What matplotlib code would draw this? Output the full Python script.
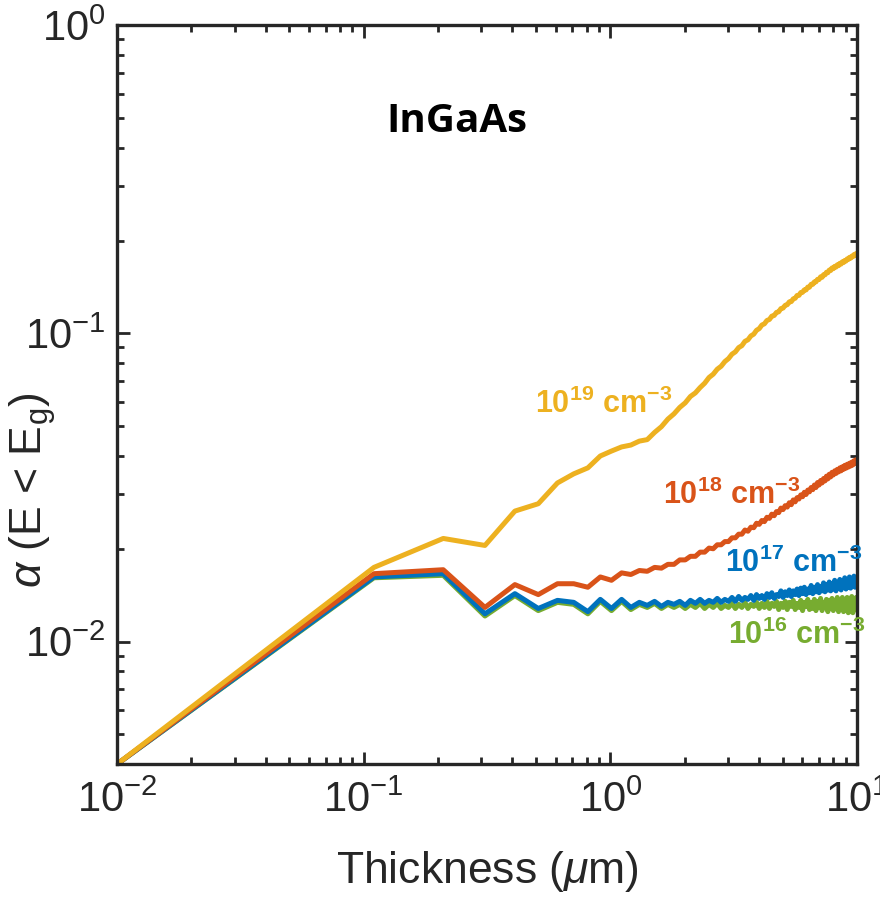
import matplotlib
matplotlib.use('AGG')
import matplotlib.pyplot as plt
from matplotlib.ticker import LogLocator, NullFormatter

plt.rcParams['font.family'] = ['Liberation Sans', 'DejaVu Sans']
plt.rcParams['mathtext.fontset'] = 'custom'
plt.rcParams['mathtext.rm'] = 'Liberation Sans'
plt.rcParams['mathtext.it'] = 'Liberation Sans:italic'
plt.rcParams['mathtext.bf'] = 'Liberation Sans:bold'

# thickness grid (um)
thickness = [0.01, 0.11, 0.21, 0.31, 0.41, 0.51, 0.61, 0.71, 0.81, 0.91,
             1.01, 1.11, 1.21, 1.31, 1.41, 1.51, 1.61, 1.71, 1.81, 1.91,
             2.01, 2.11, 2.21, 2.31, 2.41, 2.51, 2.61, 2.71, 2.81, 2.91,
             3.01, 3.11, 3.21, 3.31, 3.41, 3.51, 3.61, 3.71, 3.81, 3.91,
             4.01, 4.11, 4.21, 4.31, 4.41, 4.51, 4.61, 4.71, 4.81, 4.91,
             5.01, 5.11, 5.21, 5.31, 5.41, 5.51, 5.61, 5.71, 5.81, 5.91,
             6.01, 6.11, 6.21, 6.31, 6.41, 6.51, 6.61, 6.71, 6.81, 6.91,
             7.01, 7.11, 7.21, 7.31, 7.41, 7.51, 7.61, 7.71, 7.81, 7.91,
             8.01, 8.11, 8.21, 8.31, 8.41, 8.51, 8.61, 8.71, 8.81, 8.91,
             9.01, 9.11, 9.21, 9.31, 9.41, 9.51, 9.61, 9.71, 9.81, 9.91,
             10.01]

alpha_1e16 = [0.0040, 0.0161, 0.0164, 0.0121, 0.0141, 0.0126, 0.0134, 0.0132, 0.0123, 0.0135,
              0.0126, 0.0135, 0.0127, 0.0132, 0.0129, 0.0133, 0.0128, 0.0132, 0.0129, 0.0132,
              0.0128, 0.0132, 0.0129, 0.0133, 0.0128, 0.0132, 0.0129, 0.0133, 0.0128, 0.0131,
              0.0129, 0.0133, 0.0128, 0.0132, 0.0129, 0.0134, 0.0128, 0.0132, 0.0130, 0.0134,
              0.0128, 0.0133, 0.0129, 0.0135, 0.0128, 0.0133, 0.0130, 0.0135, 0.0127, 0.0133,
              0.0129, 0.0135, 0.0127, 0.0134, 0.0130, 0.0136, 0.0127, 0.0133, 0.0129, 0.0136,
              0.0126, 0.0134, 0.0130, 0.0137, 0.0127, 0.0134, 0.0128, 0.0137, 0.0126, 0.0135,
              0.0129, 0.0138, 0.0126, 0.0134, 0.0129, 0.0137, 0.0125, 0.0136, 0.0128, 0.0138,
              0.0126, 0.0135, 0.0129, 0.0139, 0.0125, 0.0136, 0.0128, 0.0139, 0.0125, 0.0137,
              0.0127, 0.0139, 0.0124, 0.0136, 0.0128, 0.0140, 0.0124, 0.0137, 0.0127, 0.0139,
              0.0131]

alpha_1e17 = [0.0040, 0.0162, 0.0166, 0.0123, 0.0143, 0.0128, 0.0136, 0.0134, 0.0125, 0.0137,
              0.0128, 0.0137, 0.0129, 0.0134, 0.0131, 0.0135, 0.0130, 0.0134, 0.0132, 0.0135,
              0.0131, 0.0136, 0.0133, 0.0137, 0.0133, 0.0136, 0.0134, 0.0138, 0.0134, 0.0137,
              0.0135, 0.0139, 0.0135, 0.0140, 0.0136, 0.0139, 0.0137, 0.0141, 0.0136, 0.0142,
              0.0138, 0.0141, 0.0137, 0.0143, 0.0139, 0.0144, 0.0138, 0.0142, 0.0140, 0.0146,
              0.0139, 0.0145, 0.0141, 0.0147, 0.0140, 0.0146, 0.0142, 0.0148, 0.0141, 0.0149,
              0.0143, 0.0150, 0.0142, 0.0148, 0.0144, 0.0152, 0.0143, 0.0150, 0.0145, 0.0153,
              0.0144, 0.0151, 0.0146, 0.0155, 0.0145, 0.0153, 0.0147, 0.0156, 0.0146, 0.0154,
              0.0148, 0.0158, 0.0146, 0.0155, 0.0149, 0.0159, 0.0147, 0.0157, 0.0150, 0.0161,
              0.0148, 0.0158, 0.0150, 0.0162, 0.0149, 0.0160, 0.0151, 0.0163, 0.0150, 0.0161,
              0.0156]

alpha_1e18 = [0.0040, 0.0166, 0.0171, 0.0129, 0.0153, 0.0142, 0.0154, 0.0154, 0.0150, 0.0162,
              0.0158, 0.0167, 0.0165, 0.0170, 0.0169, 0.0174, 0.0173, 0.0178, 0.0178, 0.0184,
              0.0184, 0.0189, 0.0189, 0.0195, 0.0195, 0.0201, 0.0200, 0.0206, 0.0206, 0.0211,
              0.0211, 0.0217, 0.0217, 0.0223, 0.0223, 0.0230, 0.0228, 0.0235, 0.0234, 0.0242,
              0.0240, 0.0247, 0.0245, 0.0253, 0.0251, 0.0259, 0.0256, 0.0264, 0.0262, 0.0271,
              0.0268, 0.0276, 0.0273, 0.0282, 0.0278, 0.0288, 0.0284, 0.0293, 0.0290, 0.0299,
              0.0295, 0.0305, 0.0300, 0.0310, 0.0306, 0.0316, 0.0311, 0.0322, 0.0316, 0.0328,
              0.0322, 0.0333, 0.0327, 0.0338, 0.0332, 0.0344, 0.0337, 0.0349, 0.0342, 0.0354,
              0.0347, 0.0358, 0.0351, 0.0362, 0.0355, 0.0366, 0.0358, 0.0369, 0.0362, 0.0373,
              0.0365, 0.0376, 0.0368, 0.0379, 0.0371, 0.0382, 0.0374, 0.0386, 0.0378, 0.0389,
              0.0386]

alpha_1e19 = [0.0040, 0.0174, 0.0216, 0.0205, 0.0265, 0.0280, 0.0327, 0.0350, 0.0366, 0.0400,
              0.0415, 0.0428, 0.0434, 0.0447, 0.0452, 0.0477, 0.0498, 0.0527, 0.0548, 0.0575,
              0.0595, 0.0624, 0.0641, 0.0667, 0.0689, 0.0719, 0.0737, 0.0765, 0.0782, 0.0810,
              0.0828, 0.0856, 0.0871, 0.0899, 0.0912, 0.0942, 0.0953, 0.0981, 0.0994, 0.1023,
              0.1036, 0.1064, 0.1074, 0.1101, 0.1109, 0.1137, 0.1143, 0.1169, 0.1175, 0.1203,
              0.1208, 0.1233, 0.1239, 0.1265, 0.1268, 0.1294, 0.1300, 0.1327, 0.1328, 0.1356,
              0.1359, 0.1384, 0.1383, 0.1413, 0.1412, 0.1443, 0.1442, 0.1469, 0.1469, 0.1497,
              0.1495, 0.1525, 0.1520, 0.1550, 0.1548, 0.1578, 0.1573, 0.1604, 0.1599, 0.1630,
              0.1621, 0.1650, 0.1640, 0.1669, 0.1658, 0.1688, 0.1678, 0.1707, 0.1697, 0.1724,
              0.1716, 0.1744, 0.1737, 0.1764, 0.1753, 0.1780, 0.1772, 0.1801, 0.1790, 0.1816,
              0.1812]

series = [alpha_1e16, alpha_1e17, alpha_1e18, alpha_1e19]
doping_labels = [r'$\mathbf{10^{16}\ cm^{-3}}$', r'$\mathbf{10^{17}\ cm^{-3}}$',
                 r'$\mathbf{10^{18}\ cm^{-3}}$', r'$\mathbf{10^{19}\ cm^{-3}}$']
colors = ['#77AC30', '#0072BD', '#D95319', '#EDB120']
label_pos = [(0.826, 0.162), (0.822, 0.260), (0.738, 0.352), (0.565, 0.475)]

x_ticks = [0.01, 0.1, 1, 10]
y_ticks = [0.01, 0.1, 1]

fig = plt.figure(figsize=(8.8, 8.99), dpi=100)
ax = fig.add_axes([0.133, 0.150, 0.841, 0.822])

for ys, c in zip(series, colors):
    ax.plot(thickness, ys, color=c, lw=3.6)

for lab, c, (px, py) in zip(doping_labels, colors, label_pos):
    ax.text(px, py, lab, color=c, fontsize=22, transform=ax.transAxes,
            ha='left', va='baseline')

ax.text(0.459, 0.869, 'InGaAs', fontsize=29, fontweight='bold',
        family=['Open Sans', 'DejaVu Sans'], ha='center', va='center',
        transform=ax.transAxes)

ax.set_xscale('log')
ax.set_yscale('log')
ax.set_xlim(0.01, 10)
ax.set_ylim(0.004, 1)
ax.set_xticks(x_ticks)
ax.set_yticks(y_ticks)
ax.xaxis.set_minor_locator(LogLocator(base=10, subs=range(2, 10)))
ax.yaxis.set_minor_locator(LogLocator(base=10, subs=range(2, 10)))
ax.xaxis.set_minor_formatter(NullFormatter())
ax.yaxis.set_minor_formatter(NullFormatter())

for s in ax.spines.values():
    s.set_linewidth(2.4)
    s.set_color('#262626')
ax.tick_params(which='both', direction='in', top=True, right=True,
               color='#262626', labelcolor='#262626', labelsize=30)
ax.tick_params(which='major', length=9, width=2)
ax.tick_params(which='minor', length=5, width=2)
ax.tick_params(axis='x', pad=12)
ax.tick_params(axis='y', pad=8)

ax.set_xlabel(r'Thickness ($\mu$m)', fontsize=32, color='#262626', labelpad=20)
ax.set_ylabel(r'$\alpha$ (E < E$_\mathregular{g}$)', fontsize=32, color='#262626')
ax.yaxis.set_label_coords(-0.08, 0.371)

plt.savefig('out.png', dpi=100)
plt.close()
